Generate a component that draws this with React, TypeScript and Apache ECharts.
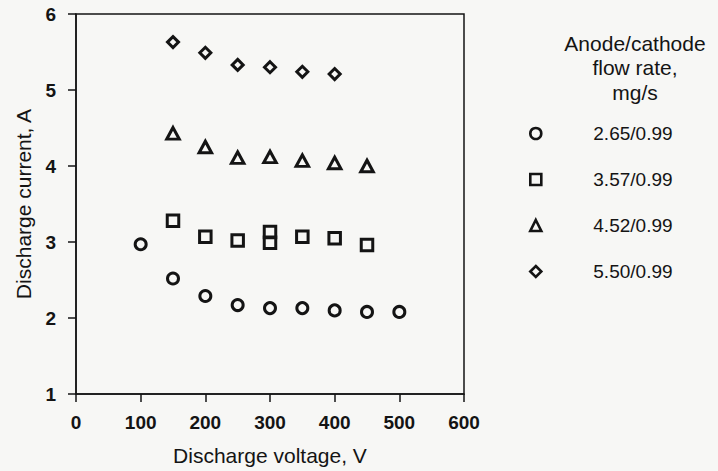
import React, { useEffect, useRef } from "react";
import * as echarts from "echarts";

// Discharge current vs discharge voltage for four anode/cathode flow rates
const seriesNames = ["2.65/0.99", "3.57/0.99", "4.52/0.99", "5.50/0.99"];
const seriesSymbols = ["circle", "rect", "triangle", "diamond"];

const voltage265 = [100, 150, 200, 250, 300, 350, 400, 450, 500];
const current265 = [2.97, 2.52, 2.29, 2.17, 2.13, 2.13, 2.1, 2.08, 2.08];

const voltage357 = [150, 200, 250, 300, 300, 350, 400, 450];
const current357 = [3.28, 3.07, 3.02, 3.13, 2.99, 3.07, 3.05, 2.96];

const voltage452 = [150, 200, 250, 300, 350, 400, 450];
const current452 = [4.43, 4.25, 4.11, 4.12, 4.07, 4.04, 4.0];

const voltage550 = [150, 200, 250, 300, 350, 400];
const current550 = [5.63, 5.49, 5.33, 5.3, 5.24, 5.21];

const xTicks = { min: 0, max: 600, interval: 100 };
const yTicks = { min: 1, max: 6, interval: 1 };

const legendTitle = "Anode/cathode\nflow rate,\nmg/s";

const INK = "#141414";
const FONT = "'Liberation Sans', Arial, Helvetica, sans-serif";

// marker sizes per symbol (width, height)
const symbolSizes: number[][] = [
  [11, 11],
  [11.5, 11.5],
  [12.5, 11.5],
  [11, 11],
];

const markerStyle = {
  color: "rgba(0,0,0,0)",
  borderColor: INK,
  borderWidth: 3,
  opacity: 1,
};

export default function App() {
  const ref = useRef<HTMLDivElement>(null);

  useEffect(() => {
    if (!ref.current) return;
    const chart = echarts.init(ref.current, undefined, { renderer: "svg" });

    const xs = [voltage265, voltage357, voltage452, voltage550];
    const ys = [current265, current357, current452, current550];

    const series = seriesNames.map((name, i) => ({
      name,
      type: "scatter" as const,
      symbol: seriesSymbols[i],
      symbolSize: symbolSizes[i],
      itemStyle: markerStyle,
      emphasis: { disabled: true },
      data: xs[i].map((x, k) => [x, ys[i][k]]),
    }));

    chart.setOption({
      animation: false,
      backgroundColor: "#f7f7f5",
      textStyle: { fontFamily: FONT, color: INK },
      grid: {
        left: 76,
        right: 254,
        top: 14,
        bottom: 76,
        show: true,
        borderColor: INK,
        borderWidth: 1.5,
        backgroundColor: "transparent",
      },
      xAxis: {
        type: "value",
        ...xTicks,
        name: "Discharge voltage, V",
        nameLocation: "middle",
        nameGap: 51,
        nameTextStyle: { fontSize: 21, color: INK, fontFamily: FONT },
        axisLine: { lineStyle: { color: INK, width: 1.5 } },
        axisTick: { length: 8, lineStyle: { color: INK, width: 1.5 } },
        axisLabel: { fontSize: 19, fontWeight: "bold", color: INK, margin: 19, fontFamily: FONT },
        splitLine: { show: false },
      },
      yAxis: {
        type: "value",
        ...yTicks,
        name: "Discharge current, A",
        nameLocation: "middle",
        nameGap: 42,
        nameTextStyle: { fontSize: 21, color: INK, fontFamily: FONT },
        axisLine: { lineStyle: { color: INK, width: 1.5 } },
        axisTick: { length: 8, lineStyle: { color: INK, width: 1.5 } },
        axisLabel: { fontSize: 19, fontWeight: "bold", color: INK, margin: 20, fontFamily: FONT },
        splitLine: { show: false },
      },
      legend: {
        orient: "vertical",
        left: 524,
        top: 119,
        itemWidth: 11,
        itemHeight: 11,
        itemGap: 27,
        selectedMode: false,
        itemStyle: { ...markerStyle, borderWidth: 2.6 },
        data: seriesNames.map((name, i) => ({ name, icon: seriesSymbols[i] })),
        textStyle: {
          fontSize: 19,
          color: INK,
          fontFamily: FONT,
          padding: [0, 0, 0, 47],
        },
      },
      graphic: [
        {
          type: "text",
          x: 635,
          y: 31,
          style: {
            text: legendTitle,
            align: "center",
            fill: INK,
            font: `21px ${FONT}`,
            lineHeight: 24.5,
          },
        },
      ],
      series,
    });

    return () => chart.dispose();
  }, []);

  return <div ref={ref} style={{ width: 718, height: 471, position: "absolute", left: 0, top: 0 }} />;
}
